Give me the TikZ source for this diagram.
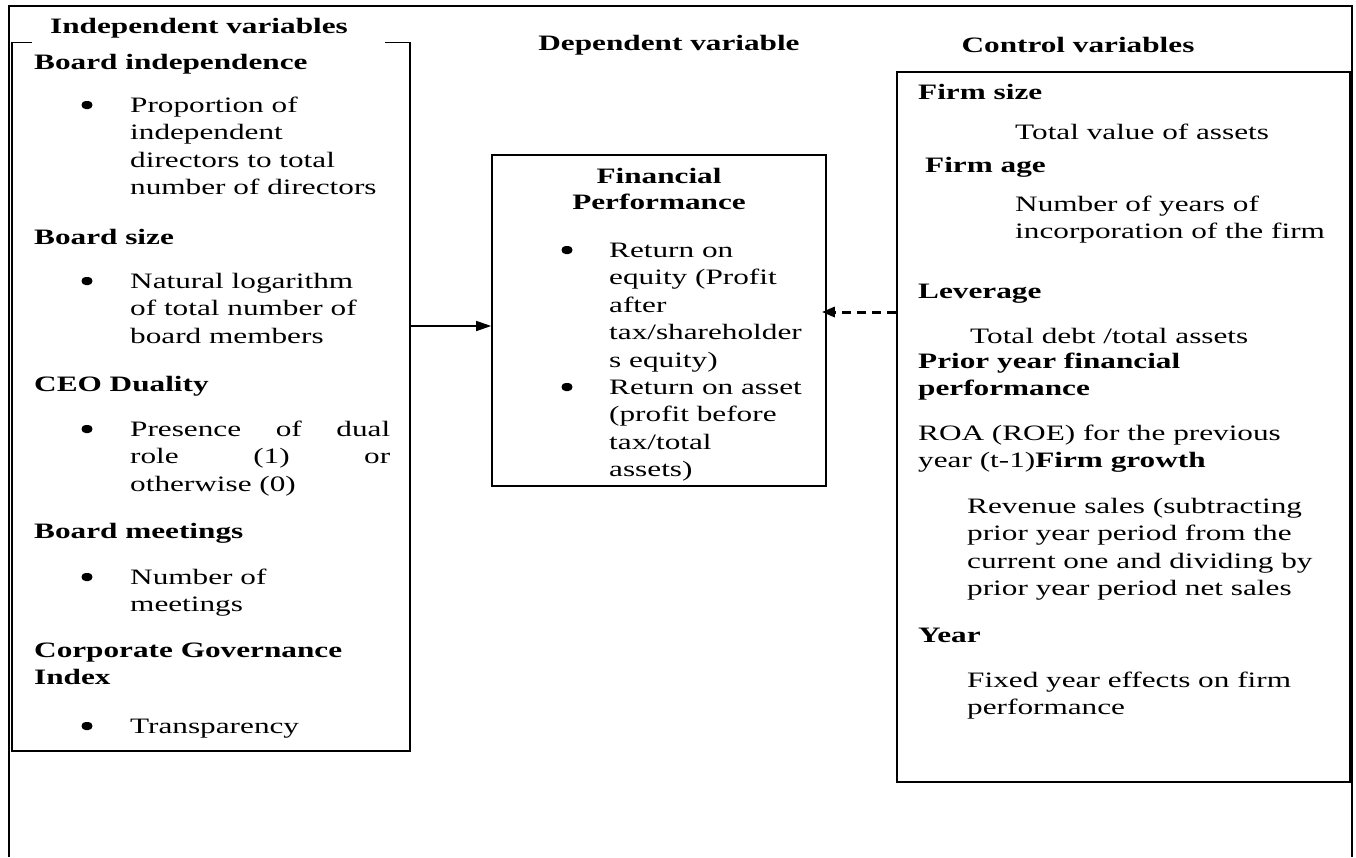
\documentclass[tikz,border=0pt]{standalone}
\usepackage{fontspec}
\setmainfont{Liberation Serif}[FakeStretch=1.42]
\usetikzlibrary{arrows.meta,fit}
\newcommand{\para}[1]{\parbox[t]{420pt}{\raggedright #1}}
\begin{document}
\begin{tikzpicture}[x=1pt,y=-1pt,
  frame/.style={line width=2pt},
  boxline/.style={line width=1.6pt},
  txt/.style={anchor=base west,inner sep=0pt,font=\fontsize{22pt}{27.6pt}\selectfont},
  bul/.style={fill,inner sep=0pt,minimum width=11pt,minimum height=8pt,rounded corners=4pt,yshift=7pt},
  hd/.style={anchor=base,inner sep=0pt,font=\fontsize{22pt}{27.6pt}\selectfont\bfseries},
  conn/.style={line width=1.4pt,-{Triangle[length=15pt,width=10pt]}},
  dconn/.style={line width=3pt,dash pattern=on 9pt off 6pt,-{Triangle[length=13pt,width=10pt]}}
]
\fill[white] (0,0) rectangle (1356,857);
\useasboundingbox (0,0) rectangle (1356,857);

% outer frame
\coordinate (f1) at (9,857);
\coordinate (f2) at (9,6);
\coordinate (f3) at (1352,6);
\coordinate (f4) at (1352,857);
\draw[frame] (f1) -- (f2) -- (f3) -- (f4);

% column headings
\node[hd] (hind) at (199,33) {Independent variables};
\node[hd] (hdep) at (669,50) {Dependent variable};
\node[hd] (hctl) at (1078,52) {Control variables};

% left box
\coordinate (l1) at (12,42.7);
\coordinate (l2) at (410,750.7);
\node[fit=(l1)(l2),inner sep=0pt] (lbox) {};
\draw[boxline] ([xshift=20pt]lbox.north west) -- (lbox.north west) -- (lbox.south west)
  -- (lbox.south east) -- (lbox.north east) -- ([xshift=-25pt]lbox.north east);

% centre box
\coordinate (c1) at (492,155);
\coordinate (c2) at (826,486);
\node[boxline,draw,fit=(c1)(c2),inner sep=0pt] (cbox) {};

% right box
\coordinate (r1) at (897,72);
\coordinate (r2) at (1350,782);
\node[boxline,draw,fit=(r1)(r2),inner sep=0pt] (rbox) {};

% left box text
\node[txt] (t1) at (34,69) {\textbf{Board independence}};
\node[bul] (b1) at (87,112) {};
\node[txt] (t2) at (130,112) {\para{Proportion of\\independent\\directors to total\\number of directors}};
\node[txt] (t3) at (34,244) {\textbf{Board size}};
\node[bul] (b2) at (87,288) {};
\node[txt] (t4) at (130,288) {\para{Natural logarithm\\of total number of\\board members}};
\node[txt] (t5) at (34,391) {\textbf{CEO Duality}};
\node[bul] (b3) at (87,436) {};
\node[txt] (t6) at (130,436) {\para{\makebox[260pt][l]{Presence\hfill of\hfill dual}\\\makebox[260pt][l]{role\hfill (1)\hfill or}\\otherwise (0)}};
\node[txt] (t7) at (34,538) {\textbf{Board meetings}};
\node[bul] (b4) at (87,584) {};
\node[txt] (t8) at (130,584) {\para{Number of\\meetings}};
\node[txt] (t9) at (34,657) {\para{\textbf{Corporate Governance}\\\textbf{Index}}};
\node[bul] (b5) at (87,733) {};
\node[txt] (t10) at (130,733) {Transparency};

% centre box text
\node[hd] (m1) at (659,183) {Financial};
\node[hd] (m2) at (659,209) {Performance};
\node[bul] (mb1) at (567,257) {};
\node[txt] (m3) at (609,257) {\para{Return on\\equity (Profit\\after\\tax/shareholder\\s equity)}};
\node[bul] (mb2) at (567,394) {};
\node[txt] (m4) at (609,394) {\para{Return on asset\\(profit before\\tax/total\\assets)}};

% right box text
\node[txt] (r3) at (918,99) {\textbf{Firm size}};
\node[txt] (r4) at (1015,139) {Total value of assets};
\node[txt] (r5) at (925,172) {\textbf{Firm age}};
\node[txt] (r6) at (1015,211) {\para{Number of years of\\incorporation of the firm}};
\node[txt] (r7) at (918,298) {\textbf{Leverage}};
\node[txt] (r8) at (970,343) {Total debt /total assets};
\node[txt] (r9) at (918,368) {\para{\textbf{Prior year financial}\\\textbf{performance}}};
\node[txt] (r10) at (918,440) {\para{ROA (ROE) for the previous\\year (t-1)\textbf{Firm growth}}};
\node[txt] (r11) at (967,513) {\para{Revenue sales (subtracting\\prior year period from the\\current one and dividing by\\prior year period net sales}};
\node[txt] (r12) at (918,642) {\textbf{Year}};
\node[txt] (r13) at (967,687) {\para{Fixed year effects on firm\\performance}};

% connectors
\coordinate (ya) at (0,326);
\coordinate (yb) at (0,312);
\draw[conn] (lbox.east |- ya) -- (cbox.west |- ya);
\draw[dconn,shorten >=-5pt] (rbox.west |- yb) -- (cbox.east |- yb);
\end{tikzpicture}
\end{document}
